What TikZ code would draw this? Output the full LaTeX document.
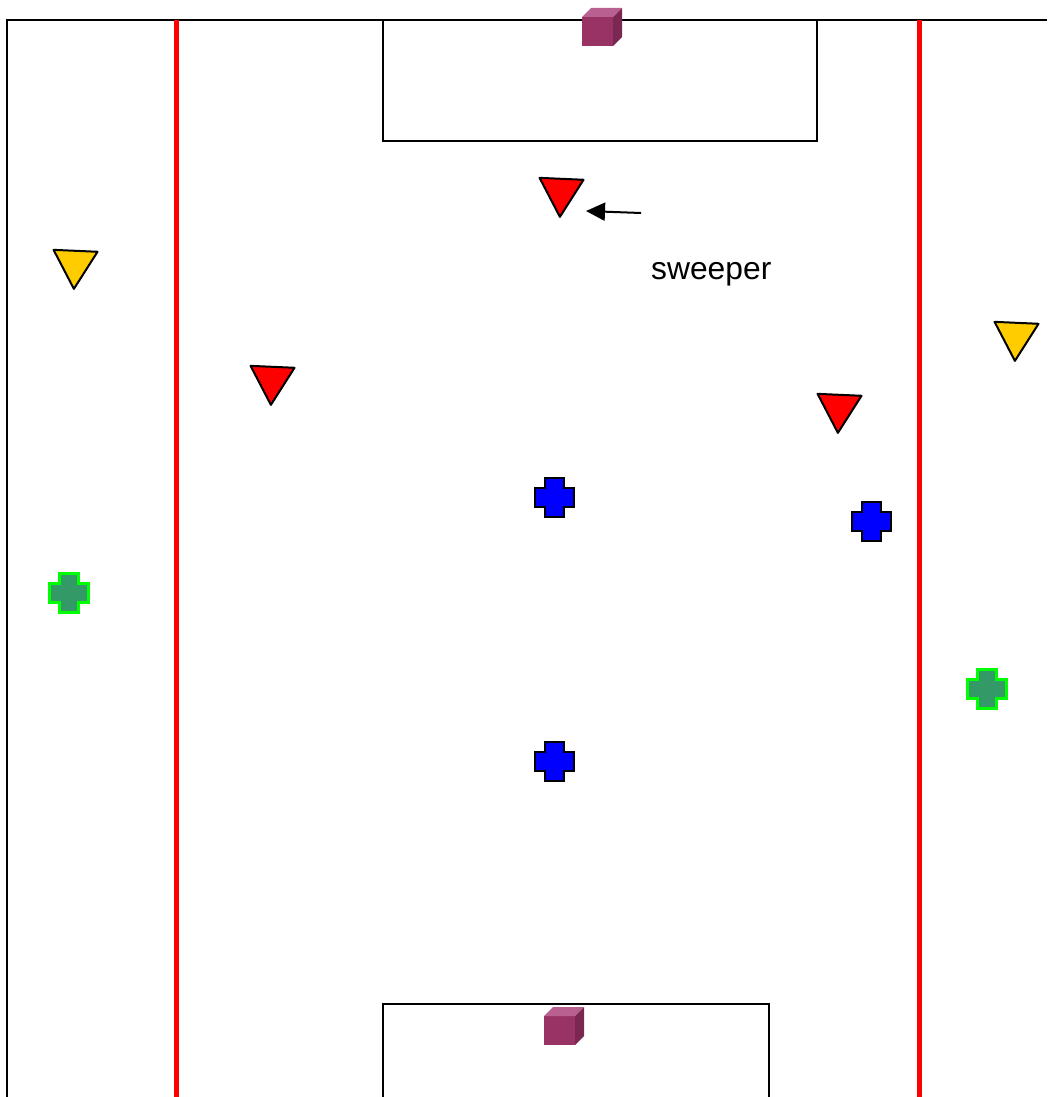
\documentclass[tikz,border=0pt]{standalone}
\usepackage{fontspec}
\setmainfont{Liberation Sans}
\usetikzlibrary{shapes.geometric,arrows.meta}
\definecolor{goalfront}{RGB}{153,51,102}
\definecolor{goaltop}{RGB}{184,96,144}
\definecolor{goalside}{RGB}{122,40,82}
\definecolor{ygold}{RGB}{255,204,0}
\definecolor{gfill}{RGB}{51,153,102}
\definecolor{gline}{RGB}{0,255,0}
\tikzset{
  fieldline/.style={black, line width=2pt},
  sideline/.style={red, line width=5pt},
  tri/.style={regular polygon, regular polygon sides=3, shape border rotate=177.5,
    minimum size=50.8pt, inner sep=0pt, draw=black, line width=2pt, line join=round},
  redtri/.style={tri, fill=red},
  yellowtri/.style={tri, fill=ygold},
  bluecross/.style={fill=blue, draw=black, line width=2pt},
  greencross/.style={fill=gfill, draw=gline, line width=2.5pt},
  plusmark/.pic={
    \path[pic actions] (-9.5,-19.5) -- (9.5,-19.5) -- (9.5,-9.5) -- (19.5,-9.5) -- (19.5,9.5)
      -- (9.5,9.5) -- (9.5,19.5) -- (-9.5,19.5) -- (-9.5,9.5) -- (-19.5,9.5)
      -- (-19.5,-9.5) -- (-9.5,-9.5) -- cycle;
  },
  goalcube/.pic={
    \fill[goalfront] (0,0) rectangle (31,-29);
    \fill[goaltop] (0,-29) -- (31,-29) -- (40,-38) -- (9,-38) -- cycle;
    \fill[goalside] (31,0) -- (31,-29) -- (40,-38) -- (40,-9) -- cycle;
  },
  label/.style={font=\fontsize{31.8}{38}\selectfont, inner sep=0pt}
}
\begin{document}
\begin{tikzpicture}[x=1pt,y=-1pt]
\useasboundingbox (0,0) rectangle (1047,1097);
% field outline
\coordinate (tl) at (7,20);
\coordinate (tr) at (1047,20);
\coordinate (bl) at (7,1097);
\draw[fieldline] (bl) -- (tl) -- (tr);
% goal areas
\draw[fieldline] (383,20) rectangle (817,141);
\draw[fieldline] (383,1097) -- (383,1004) -- (769,1004) -- (769,1097);
% side lines
\draw[sideline] (176,20) -- (176,1097);
\draw[sideline] (919,20) -- (919,1097);
% goals
\pic at (582,46) {goalcube};
\pic at (544,1045) {goalcube};
% triangles
\node[redtri] (sweep) at (561,191.5) {};
\node[yellowtri] (y1) at (75,263.5) {};
\node[redtri] (r2) at (272,379.5) {};
\node[redtri] (r3) at (839,407.5) {};
\node[yellowtri] (y2) at (1016,335.5) {};
% crosses
\pic[bluecross] (b1) at (554,497) {plusmark};
\pic[bluecross] (b2) at (871,521) {plusmark};
\pic[bluecross] (b3) at (554,761) {plusmark};
\pic[greencross] (g1) at (69,593) {plusmark};
\pic[greencross] (g2) at (987,689) {plusmark};
% label and arrow
\node[label, anchor=base west] (lbl) at (651,279) {sweeper};
\coordinate (atail) at (641,213);
\coordinate (ahead) at (586,211);
\draw[line width=2pt, -{Triangle[length=19pt,width=18pt]}] (atail) -- (ahead);
\end{tikzpicture}
\end{document}
